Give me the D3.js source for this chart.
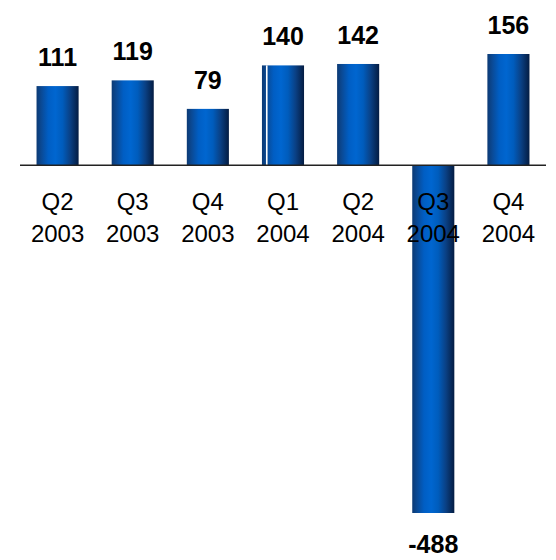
<!DOCTYPE html>
<html>
<head>
<meta charset="utf-8">
<script src="https://cdn.jsdelivr.net/npm/d3@7"></script>
<style>
  html, body { margin: 0; padding: 0; background: #fff; }
  svg { display: block; font-family: "Liberation Sans", Arial, sans-serif; }
</style>
</head>
<body>
<svg id="chart"></svg>
<script>
// chart data
var quarters = ["Q2", "Q3", "Q4", "Q1", "Q2", "Q3", "Q4"];
var years = ["2003", "2003", "2003", "2004", "2004", "2004", "2004"];
var values = [111, 119, 79, 140, 142, -488, 156];

var width = 556, height = 560;

var svg = d3.select("#chart")
  .attr("width", width)
  .attr("height", height);

var data = values.map(function(v, i) {
  return { key: i, q: quarters[i], year: years[i], value: v };
});

// scales
var xScale = d3.scaleBand()
  .domain(data.map(function(d) { return d.key; }))
  .range([20, 546])
  .paddingInner(0.44)
  .paddingOuter(0.22);

var yScale = d3.scaleLinear()
  .domain([-488, 156])
  .range([513, 54]);

// bar gradient (dark edges, bright centre)
var defs = svg.append("defs");
var grad = defs.append("linearGradient")
  .attr("id", "barGrad")
  .attr("x1", "0%").attr("x2", "100%")
  .attr("y1", "0%").attr("y2", "0%");
[
  ["0%", "#0c3a74"],
  ["12%", "#0a4a96"],
  ["28%", "#005ec4"],
  ["45%", "#0066d0"],
  ["62%", "#005cbc"],
  ["80%", "#0a4084"],
  ["100%", "#041c42"]
].forEach(function(s) {
  grad.append("stop").attr("offset", s[0]).attr("stop-color", s[1]);
});

// bars
svg.append("g").attr("class", "bars")
  .selectAll("rect").data(data)
  .enter()
  .append("rect")
  .attr("x", function(d) { return xScale(d.key); })
  .attr("width", xScale.bandwidth())
  .attr("y", function(d) { return yScale(Math.max(0, d.value)); })
  .attr("height", function(d) { return Math.abs(yScale(d.value) - yScale(0)); })
  .attr("fill", "url(#barGrad)");

// thin white seam visible on the Q1 2004 bar
svg.append("rect")
  .attr("x", xScale(3) + 4)
  .attr("width", 1.6)
  .attr("y", yScale(values[3]))
  .attr("height", yScale(0) - yScale(values[3]))
  .attr("fill", "#fff");

// zero line
svg.append("line")
  .attr("x1", 20).attr("x2", 546)
  .attr("y1", yScale(0)).attr("y2", yScale(0))
  .attr("stroke", "#222")
  .attr("stroke-width", 1.5);

// category labels
var cats = svg.append("g").attr("class", "cats")
  .selectAll("text").data(data)
  .enter()
  .append("text")
  .attr("text-anchor", "middle")
  .attr("font-size", 24)
  .attr("fill", "#000");
cats.append("tspan")
  .attr("x", function(d) { return xScale(d.key) + xScale.bandwidth() / 2; })
  .attr("y", 210)
  .text(function(d) { return d.q; });
cats.append("tspan")
  .attr("x", function(d) { return xScale(d.key) + xScale.bandwidth() / 2; })
  .attr("y", 242)
  .text(function(d) { return d.year; });

// value labels
svg.append("g").attr("class", "values")
  .selectAll("text").data(data)
  .enter()
  .append("text")
  .attr("x", function(d) { return xScale(d.key) + xScale.bandwidth() / 2; })
  .attr("y", function(d) {
    return d.value >= 0 ? yScale(d.value) - 20 : yScale(d.value) + 40;
  })
  .attr("text-anchor", "middle")
  .attr("font-size", 25)
  .attr("font-weight", "bold")
  .attr("fill", "#000")
  .text(function(d) { return d.value; });
</script>
</body>
</html>
